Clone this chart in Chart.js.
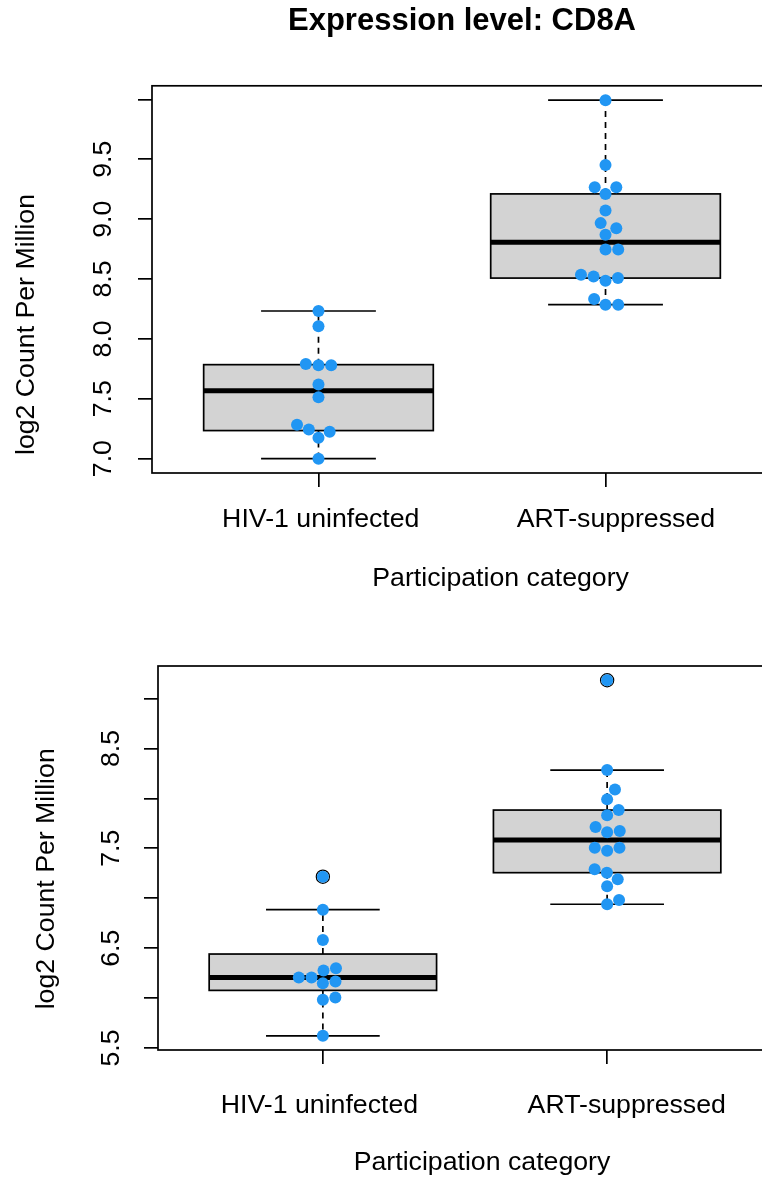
<!DOCTYPE html>
<html>
<head>
<meta charset="utf-8">
<script src="https://cdn.jsdelivr.net/npm/chart.js@4.4.1/dist/chart.umd.min.js"></script>
<style>
  html, body { margin: 0; padding: 0; background: #fff; width: 762px; height: 1180px; overflow: hidden; }
  canvas { display: block; }
</style>
</head>
<body>
<canvas id="panelTop" width="800" height="600"></canvas>
<canvas id="panelBottom" width="800" height="580"></canvas>
<script>
// categories on the x axis
const categories = ['HIV-1 uninfected', 'ART-suppressed'];
const xAxisTitle = 'Participation category';
const yAxisTitle = 'log2 Count Per Million';

// upper panel (CD8A), log2 CPM per participant
const cd8aUninfected = [8.233, 8.105, 7.79, 7.78, 7.78, 7.62, 7.513, 7.283, 7.244, 7.225, 7.175, 7.0];
const cd8aSuppressed = [9.994, 9.453, 9.267, 9.267, 9.211, 9.072, 8.967, 8.925, 8.869, 8.747, 8.747,
                        8.536, 8.522, 8.508, 8.486, 8.333, 8.286, 8.286];
const cd8aTickLabels = ['7.0', '7.5', '8.0', '8.5', '9.0', '9.5'];

// lower panel
const lowerUninfected = [7.216, 6.886, 6.583, 6.30, 6.276, 6.206, 6.206, 6.166, 6.149, 6.006, 5.983, 5.623];
const lowerSuppressed = [9.183, 8.283, 8.09, 7.99, 7.883, 7.83, 7.713, 7.673, 7.66, 7.506, 7.506,
                         7.476, 7.29, 7.256, 7.19, 7.12, 6.983, 6.94];
const lowerTickLabels = ['5.5', '6.5', '7.5', '8.5'];

const FONT = '"Liberation Sans", Arial, Helvetica, sans-serif';
const TXT = 26.7;
const dotColor = '#2196f3';

// same as R fivenum / boxplot.stats
function fivenum(vals) {
    const x = vals.slice().sort((a, b) => a - b);
    const n = x.length;
    const n4 = Math.floor((n + 3) / 2) / 2;
    const d = [1, n4, (n + 1) / 2, n + 1 - n4, n];
    return d.map(k => 0.5 * (x[Math.floor(k) - 1] + x[Math.ceil(k) - 1]));
}
function boxStats(vals) {
    const s = fivenum(vals);
    const lim = 1.5 * (s[3] - s[1]);
    const inside = vals.filter(v => v >= s[1] - lim && v <= s[3] + lim);
    const out = vals.filter(v => v < s[1] - lim || v > s[3] + lim);
    s[0] = Math.min(...inside);
    s[4] = Math.max(...inside);
    return { s, out };
}

// beeswarm "swarm" placement, ascending priority, in pixels
function swarm(pys, d) {
    const order = pys.map((v, i) => i).sort((a, b) => pys[b] - pys[a]);
    const px = [], py = [];
    const res = new Array(pys.length);
    order.forEach(i => {
        const y = pys[i];
        const cands = [0];
        for (let k = 0; k < py.length; k++) {
            const dy = Math.abs(py[k] - y);
            if (dy < d) {
                const w = Math.sqrt(d * d - dy * dy);
                cands.push(px[k] + w, px[k] - w);
            }
        }
        const ok = cands.filter(cx => py.every((yy, k) => Math.hypot(px[k] - cx, yy - y) >= d - 1e-6));
        ok.sort((a, b) => Math.abs(a) - Math.abs(b));
        res[i] = ok[0];
        px.push(ok[0]);
        py.push(y);
    });
    return res;
}

function rotatedText(ctx, txt, x, y) {
    ctx.save();
    ctx.translate(x, y);
    ctx.rotate(-Math.PI / 2);
    ctx.fillText(txt, 0, 0);
    ctx.restore();
}

function makeBoxPlugin(stats, tickLabels, lay) {
    return {
        id: 'boxes',
        beforeDatasetsDraw(chart) {
            const { ctx, chartArea: a, scales: { x, y } } = chart;
            ctx.save();
            ctx.strokeStyle = '#000';
            stats.forEach((st, i) => {
                const c = i + 1;
                const cx = x.getPixelForValue(c);
                const l = x.getPixelForValue(c - 0.4), r = x.getPixelForValue(c + 0.4);
                const sl = x.getPixelForValue(c - 0.2), sr = x.getPixelForValue(c + 0.2);
                const [lo, q1, med, q3, hi] = st.s.map(v => y.getPixelForValue(v));
                // whiskers
                ctx.lineWidth = 1.7;
                ctx.setLineDash([6, 5]);
                ctx.beginPath();
                ctx.moveTo(cx, q3); ctx.lineTo(cx, hi);
                ctx.moveTo(cx, q1); ctx.lineTo(cx, lo);
                ctx.stroke();
                ctx.setLineDash([]);
                // box
                ctx.fillStyle = '#d3d3d3';
                ctx.fillRect(l, q3, r - l, q1 - q3);
                ctx.strokeRect(l, q3, r - l, q1 - q3);
                // median
                ctx.lineWidth = 5;
                ctx.beginPath();
                ctx.moveTo(l, med); ctx.lineTo(r, med);
                ctx.stroke();
                // staples
                ctx.lineWidth = 1.7;
                ctx.beginPath();
                ctx.moveTo(sl, hi); ctx.lineTo(sr, hi);
                ctx.moveTo(sl, lo); ctx.lineTo(sr, lo);
                ctx.stroke();
            });
            ctx.lineWidth = 1.7;
            ctx.strokeRect(a.left, a.top, a.right - a.left, a.bottom - a.top);
            ctx.restore();
        },
        afterDraw(chart) {
            const { ctx, scales: { x, y } } = chart;
            ctx.save();
            ctx.font = TXT + 'px ' + FONT;
            ctx.fillStyle = '#000';
            ctx.textAlign = 'center';
            ctx.textBaseline = 'middle';
            // y tick labels, rotated like R's las = 0
            y.ticks.forEach(t => {
                const lab = t.value.toFixed(1);
                if (tickLabels.includes(lab)) rotatedText(ctx, lab, lay.yLabelX, y.getPixelForValue(t.value));
            });
            // category labels under the x ticks
            x.ticks.forEach(t => {
                const i = Math.round(t.value) - 1;
                if (categories[i]) ctx.fillText(categories[i], x.getPixelForValue(t.value) + lay.xLabelShift[i], lay.xLabelY);
            });
            ctx.fillText(xAxisTitle, lay.xTitleX, lay.xTitleY);
            rotatedText(ctx, yAxisTitle, lay.yTitleX, lay.yTitleY);
            ctx.restore();
        }
    };
}

function makePanel(id, groups, tickLabels, lay) {
    const n = categories.length;
    const all = groups.flat();
    const lo = Math.min(...all), hi = Math.max(...all);
    const ext = 0.04 * (hi - lo);
    const stats = groups.map(boxStats);
    const outliers = [];
    stats.forEach((st, i) => st.out.forEach(v => outliers.push({ x: i + 1, y: v })));
    const grid = { drawOnChartArea: false, drawTicks: true, tickLength: 14, color: '#000', lineWidth: 1.7 };

    const chart = new Chart(document.getElementById(id), {
        type: 'scatter',
        data: {
            datasets: [
                {
                    data: groups.flatMap((g, i) => g.map(v => ({ x: i + 1, y: v }))),
                    backgroundColor: dotColor, borderWidth: 0,
                    pointRadius: 6, pointHoverRadius: 6, order: 0
                },
                {
                    // boxplot outliers: open black circle under the dot
                    data: outliers,
                    backgroundColor: 'rgba(0,0,0,0)', borderColor: '#000', borderWidth: 1.2,
                    pointRadius: 6.6, pointHoverRadius: 6.6, order: 1
                }
            ]
        },
        plugins: [makeBoxPlugin(stats, tickLabels, lay)],
        options: {
            responsive: false,
            animation: false,
            events: [],
            layout: { padding: { left: 0, right: 28, top: lay.padTop, bottom: 0 } },
            plugins: {
                legend: { display: false },
                tooltip: { enabled: false },
                title: lay.title ? {
                    display: true, text: lay.title, fullSize: false, color: '#000',
                    font: { family: FONT, size: 31, weight: 'bold', lineHeight: 1.2 },
                    padding: { top: 2.7, bottom: 45.9 }
                } : { display: false }
            },
            scales: {
                x: {
                    type: 'linear',
                    min: 0.5 - 0.04 * n,
                    max: n + 0.5 + 0.04 * n,
                    afterFit: s => { s.height = lay.xHeight; },
                    ticks: { display: false, stepSize: 1, includeBounds: false },
                    grid,
                    border: { display: false }
                },
                y: {
                    min: lo - ext,
                    max: hi + ext,
                    afterFit: s => { s.width = lay.yWidth; },
                    ticks: { display: false, stepSize: 0.5, includeBounds: false },
                    grid,
                    border: { display: false }
                }
            }
        }
    });

    // spread the dots sideways once the scales exist
    const { x, y } = chart.scales;
    const unit = x.getPixelForValue(1) - x.getPixelForValue(0);
    const pts = [];
    groups.forEach((vals, i) => {
        const offs = swarm(vals.map(v => y.getPixelForValue(v)), 12.7);
        vals.forEach((v, k) => pts.push({ x: i + 1 + offs[k] / unit, y: v }));
    });
    chart.data.datasets[0].data = pts;
    chart.update('none');
    return chart;
}

makePanel('panelTop', [cd8aUninfected, cd8aSuppressed], cd8aTickLabels, {
    title: 'Expression level: CD8A', padTop: 0, yWidth: 152, xHeight: 127,
    yLabelX: 104, xLabelY: 520, xLabelShift: [2.3, 10.4],
    xTitleX: 500.6, xTitleY: 579, yTitleX: 27, yTitleY: 324.5
});
makePanel('panelBottom', [lowerUninfected, lowerSuppressed], lowerTickLabels, {
    title: null, padTop: 66, yWidth: 158, xHeight: 130,
    yLabelX: 111.4, xLabelY: 506, xLabelShift: [-3.4, 19.6],
    xTitleX: 482, xTitleY: 563, yTitleX: 46.5, yTitleY: 278.8
});
</script>
</body>
</html>
